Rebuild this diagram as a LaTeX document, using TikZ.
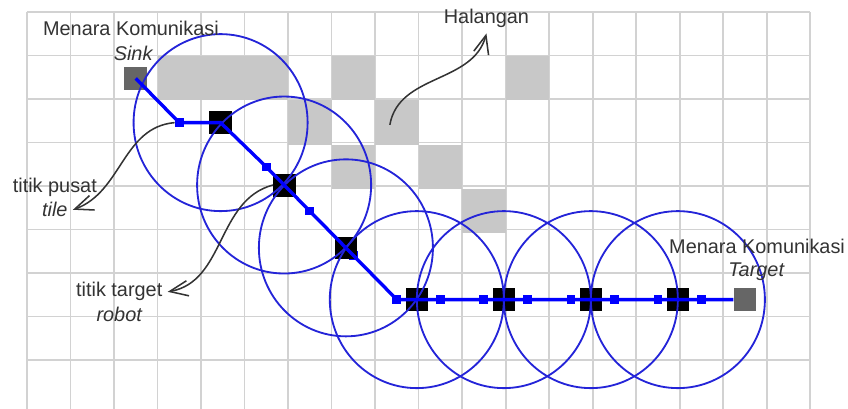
\documentclass[tikz,border=0pt]{standalone}
\usepackage{fontspec}
\setmainfont{Liberation Sans}
\usetikzlibrary{arrows.meta}
\definecolor{gridgray}{HTML}{D2D2D2}
\definecolor{blockgray}{HTML}{C8C8C8}
\definecolor{towergray}{HTML}{666666}
\definecolor{ringblue}{HTML}{2424D8}
\definecolor{routeblue}{HTML}{0000FF}
\definecolor{labelgray}{HTML}{333333}

\begin{document}
\begin{tikzpicture}[x=1cm,y=1.017cm,
  gridline/.style={draw=gridgray, line width=1.2pt},
  block/.style={fill=blockgray},
  tower/.style={rectangle, fill=towergray, minimum size=0.52cm, inner sep=0pt},
  robotpt/.style={rectangle, fill=black, draw=black, minimum size=0.5cm, inner sep=0pt},
  tilept/.style={rectangle, fill=routeblue, minimum size=0.2cm, inner sep=0pt},
  ring/.style={draw=ringblue, line width=1.2pt},
  route/.style={draw=routeblue, line width=2.2pt},
  callout/.style={draw=black!80, line width=1pt, -{Straight Barb[length=12pt,width=10pt]}},
  lbl/.style={anchor=base, text=labelgray, font=\fontsize{13}{16}\selectfont},
  sublbl/.style={lbl, font=\fontsize{13}{16}\selectfont\itshape}]
\useasboundingbox (-0.62,0.271) rectangle (18.87,-8.95);
\draw[gridline] (0,-8) grid (18,0);
\draw[gridline] (0,-8) grid[ystep=10] (18,-9.3);
% halangan
\fill[block] (3,-1) rectangle (6,-2);
\fill[block] (7,-1) rectangle (8,-2);
\fill[block] (11,-1) rectangle (12,-2);
\fill[block] (6,-2) rectangle (7,-3);
\fill[block] (8,-2) rectangle (9,-3);
\fill[block] (7,-3) rectangle (8,-4);
\fill[block] (9,-3) rectangle (10,-4);
\fill[block] (10,-4) rectangle (11,-5);
% menara
\node[tower] (sink) at (2.5,-1.5) {};
\node[tower] (target) at (16.5,-6.5) {};
% titik pusat tile
\node[tilept] (t1) at (3.5,-2.5) {};
\node[tilept] (t2) at (5.5,-3.5) {};
\node[tilept] (t3) at (6.5,-4.5) {};
\node[tilept] (t4) at (7.5,-5.5) {};
\node[tilept] (t5) at (8.5,-6.5) {};
\node[tilept] (t6) at (9.5,-6.5) {};
\node[tilept] (t7) at (10.5,-6.5) {};
\node[tilept] (t8) at (11.5,-6.5) {};
\node[tilept] (t9) at (12.5,-6.5) {};
\node[tilept] (t10) at (13.5,-6.5) {};
\node[tilept] (t11) at (14.5,-6.5) {};
\node[tilept] (t12) at (15.5,-6.5) {};
% titik target robot
\node[robotpt] (r1) at (4.45,-2.5) {};
\node[robotpt] (r2) at (5.91,-3.91) {};
\node[robotpt] (r3) at (7.33,-5.33) {};
\node[robotpt] (r4) at (8.96,-6.5) {};
\node[robotpt] (r5) at (10.96,-6.5) {};
\node[robotpt] (r6) at (12.96,-6.5) {};
\node[robotpt] (r7) at (14.96,-6.5) {};
\draw[ring] (r1) circle (2);
\draw[ring] (r2) circle (2);
\draw[ring] (r3) circle (2);
\draw[ring] (r4) circle (2);
\draw[ring] (r5) circle (2);
\draw[ring] (r6) circle (2);
\draw[ring] (r7) circle (2);
\draw[route] (sink.center) -- (t1.center) -- (r1.center) -- (t2.center) -- (r2.center) -- (t3.center)
  -- (r3.center) -- (t4.center) -- (t5.center) -- (r4.center) -- (t6.center) -- (t7.center) -- (r5.center)
  -- (t8.center) -- (t9.center) -- (r6.center) -- (t10.center) -- (t11.center) -- (r7.center) -- (t12.center) -- (target);
% keterangan
\node[lbl] (sinklbl) at (2.39,-0.54) {Menara Komunikasi};
\node[sublbl] (sinksub) at (2.44,-1.085) {Sink};
\node[lbl] (targetlbl) at (16.78,-5.45) {Menara Komunikasi};
\node[sublbl] (targetsub) at (16.76,-5.97) {Target};
\node[lbl] (hallbl) at (10.56,-0.27) {Halangan};
\node[lbl] (pusatlbl) at (0.64,-4.09) {titik pusat};
\node[sublbl] (tilelbl) at (0.64,-4.63) {tile};
\node[lbl] (tgtlbl) at (2.12,-6.44) {titik target};
\node[sublbl] (robotlbl) at (2.12,-7.0) {robot};
\coordinate (obst) at (8.34,-2.55);
\draw[callout] (obst) to[out=80,in=-105] (hallbl.south);
\draw[callout] (t1.west) to[out=185,in=20] (tilelbl.east);
\draw[callout] (r2.west) to[out=195,in=10] (tgtlbl.east);
\end{tikzpicture}
\end{document}
